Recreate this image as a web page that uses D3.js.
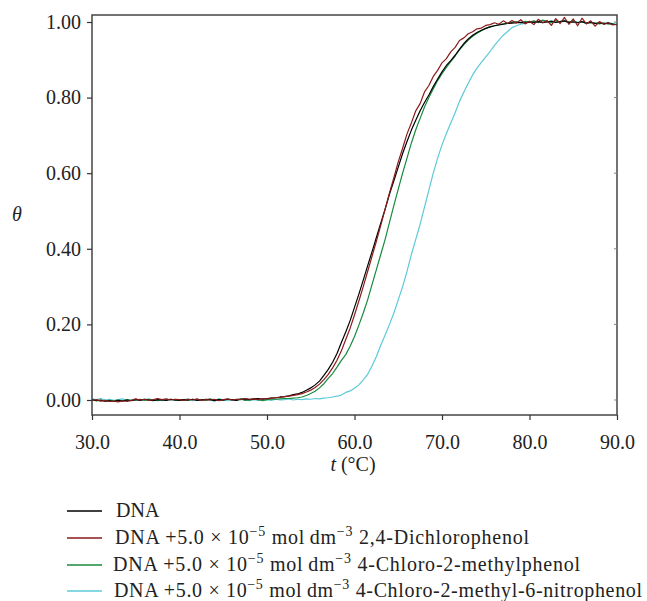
<!DOCTYPE html>
<html>
<head>
<meta charset="utf-8">
<script src="https://cdn.jsdelivr.net/npm/d3@7"></script>
</head>
<body style="margin:0">
<svg id="chart" width="647" height="601" font-family="'Liberation Serif'" style="font-family:'Liberation Serif';display:block"></svg>
<script>
// ---------- data ----------
const temperatures = [
  30,30.5,31,31.5,32,32.5,33,33.5,34,34.5,
  35,35.5,36,36.5,37,37.5,38,38.5,39,39.5,
  40,40.5,41,41.5,42,42.5,43,43.5,44,44.5,
  45,45.5,46,46.5,47,47.5,48,48.5,49,49.5,
  50,
  50.5,51,51.5,52,52.5,53,53.5,54,54.5,
  55,55.5,56,56.5,57,57.5,58,58.5,59,59.5,
  60,60.5,61,61.5,62,62.5,63,63.5,64,64.5,
  65,65.5,66,66.5,67,67.5,68,68.5,69,69.5,
  70,70.5,71,71.5,72,72.5,73,73.5,74,74.5,
  75,75.5,76,76.5,77,77.5,78,78.5,79,79.5,
  80,
  80.5,81,81.5,82,82.5,83,83.5,84,84.5,
  85,85.5,86,86.5,87,87.5,88,88.5,89,89.5,90
];

const dnaValues = [
  0.001,-0.002,0.000,-0.003,-0.002,-0.004,-0.001,-0.003,0.000,-0.002,
  0.001,-0.001,0.002,0.000,-0.002,0.001,0.000,-0.001,0.002,0.000,
  -0.001,0.001,0.000,0.002,-0.001,0.000,0.002,0.001,-0.002,0.001,
  0.000,0.002,0.001,-0.001,0.002,0.003,0.001,0.003,0.004,0.002,
  0.004,
  0.005,0.006,0.008,0.009,0.011,0.014,0.016,0.020,0.026,
  0.032,0.040,0.050,0.065,0.081,0.100,0.123,0.152,0.180,0.210,
  0.245,0.280,0.317,0.355,0.392,0.430,0.468,0.505,0.545,0.580,
  0.616,0.652,0.684,0.714,0.740,0.765,0.787,0.807,0.829,0.849,
  0.868,0.885,0.898,0.912,0.928,0.943,0.955,0.965,0.972,0.978,
  0.983,0.987,0.990,0.992,0.994,0.996,0.997,0.998,0.999,0.998,
  1.000,
  0.999,1.001,0.998,1.000,1.002,0.999,1.001,1.003,0.999,
  1.000,0.998,1.001,0.997,0.999,0.996,0.998,0.995,0.997,0.994,0.993
];

const dichloroValues = [
  -0.002,0.001,-0.003,-0.001,-0.004,-0.003,-0.005,-0.002,-0.004,-0.001,
  0.003,0.000,0.002,-0.001,0.001,0.004,0.001,0.003,0.000,0.002,
  0.001,-0.001,0.002,0.000,0.003,-0.001,0.001,0.000,0.002,-0.002,
  0.001,0.003,0.000,0.002,0.001,0.004,0.002,0.003,0.001,0.004,
  0.003,
  0.005,0.006,0.007,0.009,0.010,0.012,0.014,0.017,0.021,
  0.026,0.033,0.042,0.054,0.068,0.085,0.105,0.130,0.160,0.190,
  0.225,0.262,0.300,0.340,0.380,0.420,0.462,0.505,0.548,0.588,
  0.630,0.666,0.704,0.733,0.765,0.784,0.815,0.832,0.856,0.872,
  0.892,0.903,0.921,0.933,0.951,0.958,0.969,0.974,0.982,0.984,
  0.991,0.993,0.998,0.994,1.003,0.996,1.004,0.997,1.006,0.995,
  1.002,
  0.993,1.007,0.998,1.004,0.991,1.009,0.996,1.012,0.994,
  1.008,0.990,1.010,0.995,1.003,0.989,1.001,0.994,0.998,0.992,0.994
];

const chloroMethylValues = [
  0.000,-0.002,-0.001,-0.003,-0.001,-0.002,0.000,-0.002,0.001,-0.001,
  0.000,0.002,-0.001,0.001,0.000,-0.002,0.001,0.000,0.002,-0.001,
  0.001,0.000,-0.001,0.002,0.000,0.001,-0.001,0.003,0.000,0.001,
  -0.001,0.002,0.000,0.001,0.003,-0.001,0.000,0.002,0.001,-0.002,
  0.001,
  0.002,0.002,0.003,0.004,0.004,0.005,0.006,0.008,0.012,
  0.017,0.023,0.032,0.043,0.057,0.070,0.087,0.105,0.120,0.142,
  0.168,0.198,0.230,0.265,0.305,0.345,0.385,0.425,0.470,0.515,
  0.558,0.600,0.640,0.680,0.715,0.745,0.775,0.800,0.823,0.845,
  0.863,0.880,0.895,0.910,0.926,0.940,0.952,0.962,0.970,0.977,
  0.983,0.987,0.990,0.993,0.995,0.997,0.999,1.001,0.998,1.002,
  1.000,
  1.003,0.999,1.005,1.001,0.998,1.004,1.000,1.002,0.999,
  1.003,0.998,1.001,0.996,0.999,0.997,0.995,0.998,0.994,0.996,0.992
];

const nitroValues = [
  0.003,0.001,0.004,0.000,0.002,-0.001,0.001,0.003,-0.002,0.000,
  0.002,-0.001,0.001,0.003,0.000,0.002,-0.002,0.001,0.000,0.002,
  -0.001,0.001,0.003,-0.002,0.000,0.002,-0.001,0.001,-0.003,0.004,
  0.000,-0.002,0.001,-0.001,0.002,0.000,-0.002,0.001,-0.001,0.000,
  0.001,
  -0.001,0.002,0.000,0.001,0.003,0.000,0.002,0.001,0.003,
  0.002,0.004,0.003,0.005,0.006,0.008,0.010,0.013,0.020,0.024,
  0.031,0.040,0.053,0.068,0.090,0.115,0.145,0.172,0.200,0.230,
  0.265,0.300,0.340,0.385,0.425,0.465,0.510,0.555,0.600,0.640,
  0.675,0.705,0.733,0.760,0.790,0.815,0.838,0.860,0.878,0.893,
  0.908,0.922,0.938,0.952,0.965,0.975,0.985,0.990,0.994,0.997,
  0.999,
  1.001,0.998,1.003,1.000,1.004,0.999,1.002,1.005,1.000,
  1.003,0.999,1.001,0.997,1.000,0.996,0.998,0.995,0.999,0.996,0.998
];

const seriesNames = ["DNA", "2,4-Dichlorophenol", "4-Chloro-2-methylphenol", "4-Chloro-2-methyl-6-nitrophenol"];
const seriesColors = ["#000000", "#8b1a1a", "#178a3c", "#5ccad8"];
const xTicks = [30, 40, 50, 60, 70, 80, 90];
const yTicks = [0, 0.2, 0.4, 0.6, 0.8, 1.0];

const series = [
  { name: seriesNames[0], color: seriesColors[0], values: dnaValues },
  { name: seriesNames[1], color: seriesColors[1], values: dichloroValues },
  { name: seriesNames[2], color: seriesColors[2], values: chloroMethylValues },
  { name: seriesNames[3], color: seriesColors[3], values: nitroValues }
];

// ---------- layout ----------
const FONTSTYLE = "font-family:'Liberation Serif'";
const TXT = "#222";
const svg = d3.select("#chart");
const pLeft = 92, pRight = 617, pTop = 15, pBottom = 415;

const x = d3.scaleLinear().domain([30, 90]).range([pLeft, pRight]);
const y = d3.scaleLinear().domain([-0.0397, 1.0185]).range([pBottom, pTop]);

svg.append("defs").append("clipPath").attr("id", "plotclip")
  .append("rect").attr("x", pLeft).attr("y", pTop).attr("width", pRight - pLeft).attr("height", pBottom - pTop);

// lines
const line = d3.line().x((d, i) => x(temperatures[i])).y(d => y(d));
const plot = svg.append("g").attr("clip-path", "url(#plotclip)");
[3, 2, 0, 1].forEach(k => {
  plot.append("path")
    .datum(series[k].values)
    .attr("fill", "none")
    .attr("stroke", series[k].color)
    .attr("stroke-width", 1.2)
    .attr("stroke-linejoin", "round")
    .attr("d", line);
});

// frame
svg.append("rect")
  .attr("x", pLeft).attr("y", pTop).attr("width", pRight - pLeft).attr("height", pBottom - pTop)
  .attr("fill", "none").attr("stroke", "#444").attr("stroke-width", 1.5);

// right-side inner minor ticks
svg.append("g").selectAll("line").data(yTicks).join("line")
  .attr("x1", pRight - 3).attr("x2", pRight)
  .attr("y1", d => y(d)).attr("y2", d => y(d))
  .attr("stroke", "#888").attr("stroke-width", 1);

// y axis
const yAxis = svg.append("g").attr("transform", `translate(${pLeft},0)`)
  .call(d3.axisLeft(y).tickValues(yTicks).tickFormat(d3.format(".2f")).tickSize(5).tickPadding(6));
yAxis.attr("font-family", null).attr("style", FONTSTYLE);
yAxis.select(".domain").remove();
yAxis.selectAll(".tick line").attr("stroke", "#333").attr("stroke-width", 1.2);
yAxis.selectAll("text").attr("fill", TXT).attr("style", FONTSTYLE + ";font-size:20px");

// x axis
const xAxis = svg.append("g").attr("transform", `translate(0,${pBottom})`)
  .call(d3.axisBottom(x).tickValues(xTicks).tickFormat(d3.format(".1f")).tickSize(5));
xAxis.attr("font-family", null).attr("style", FONTSTYLE);
xAxis.select(".domain").remove();
xAxis.selectAll(".tick line").attr("stroke", "#333").attr("stroke-width", 1.2);
xAxis.selectAll("text").attr("fill", TXT).attr("style", FONTSTYLE + ";font-size:20px")
  .attr("y", 34).attr("dy", 0);

// axis titles
svg.append("text").attr("x", 17).attr("y", 221).attr("text-anchor", "middle")
  .attr("fill", TXT).attr("style", FONTSTYLE + ";font-size:20px;font-style:italic").text("θ");

const xt = svg.append("text").attr("x", 353).attr("y", 471).attr("text-anchor", "middle")
  .attr("fill", TXT).attr("style", FONTSTYLE + ";font-size:20px");
xt.append("tspan").attr("style", "font-style:italic").text("t");
xt.append("tspan").text(" (°C)");

// legend
const legendRows = [511, 538, 565, 591];
const legendTextX = [116, 115, 113, 114];
const legendTextLen = [0, 414, 467, 528];
const lg = svg.append("g");
series.forEach((s, i) => {
  const ly = legendRows[i];
  lg.append("line").attr("x1", 67).attr("x2", 102).attr("y1", ly).attr("y2", ly)
    .attr("stroke", s.color).attr("stroke-width", 1.3);
  const t = lg.append("text").attr("x", legendTextX[i]).attr("y", ly + 6)
    .attr("fill", TXT).attr("style", FONTSTYLE + ";font-size:20px");
  if (i === 0) {
    t.text("DNA");
  } else {
    t.append("tspan").text("DNA +5.0 × 10");
    t.append("tspan").attr("style", "font-size:14px").attr("dy", -8).text("−5");
    t.append("tspan").attr("dy", 8).text(" mol\u2009dm");
    t.append("tspan").attr("style", "font-size:14px").attr("dy", -8).text("−3");
    t.append("tspan").attr("dy", 8).text(" " + s.name);
    t.attr("textLength", legendTextLen[i]).attr("lengthAdjust", "spacing");
  }
});
</script>
</body>
</html>
